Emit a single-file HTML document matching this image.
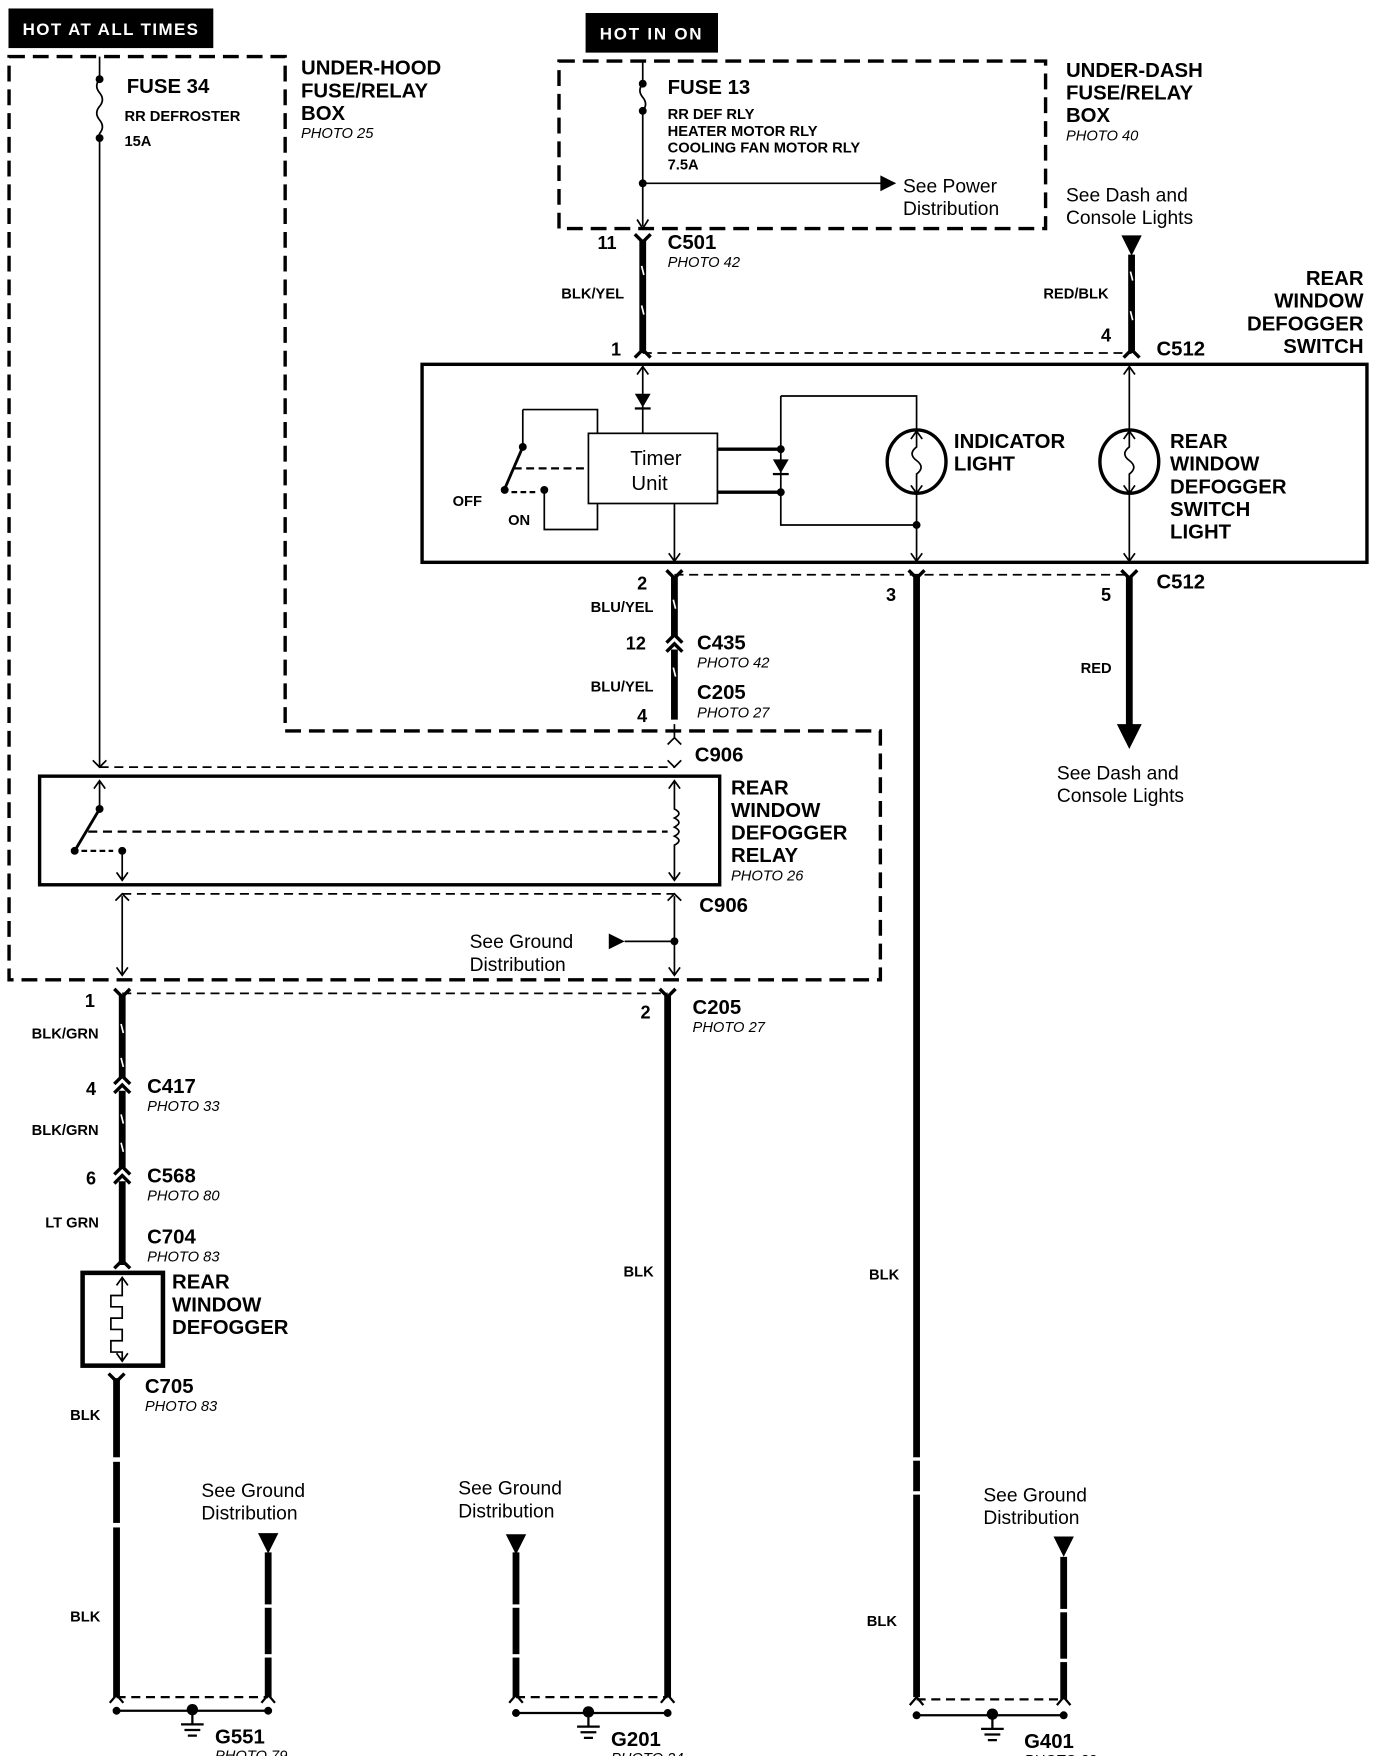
<!DOCTYPE html>
<html><head><meta charset="utf-8"><style>
html,body{margin:0;padding:0;background:#fff;}
svg{display:block;}
text{font-family:"Liberation Sans",Arial,sans-serif;fill:#000;}
.b{font-weight:bold;font-size:18px;}
.s{font-weight:bold;font-size:13px;}
.p{font-style:italic;font-size:13px;}
.r{font-size:17px;}
.n{font-size:16px;font-weight:bold;}
</style></head><body>
<svg width="1376" height="1756" viewBox="0 0 1216 1552" preserveAspectRatio="none" xmlns="http://www.w3.org/2000/svg">
<rect x="0" y="0" width="1216" height="1552" fill="#fff"/>
<g stroke="#000" fill="none">
<!-- header boxes -->
<rect x="8" y="8" width="180" height="34" fill="#000"/>
<rect x="518" y="12" width="116" height="34" fill="#000"/>
<!-- under-hood dashed box -->
<path d="M8,50 H252 V646 H778 V866 H8 Z" stroke-width="3" stroke-dasharray="14,7"/>
<!-- under-dash dashed box -->
<rect x="494" y="54" width="430" height="148" stroke-width="3" stroke-dasharray="14,7"/>
<!-- fuse 34 wire -->
<path d="M88,50 V70 q-5,6 0,12 q5,6 0,12 q-5,6 0,12 q5,6 0,12 V678" stroke-width="1.5"/>
<!-- fuse 13 wire -->
<path d="M568,54 V74 q-5,6 0,12 q5,6 0,12 V200" stroke-width="1.5"/>
<path d="M563,194 L568,202 L573,194" stroke-width="1.5"/>
<path d="M568,162 H782" stroke-width="1.5"/>
</g>
<g fill="#000">
<circle cx="88" cy="70" r="3.5"/><circle cx="88" cy="122" r="3.5"/>
<circle cx="568" cy="74" r="3.5"/><circle cx="568" cy="98" r="3.5"/><circle cx="568" cy="162" r="3.5"/>
<path d="M778,155 L792,162 L778,169 Z"/>
</g>
<text x="20" y="31" style="font-size:15px;font-weight:bold;fill:#fff" textLength="155">HOT AT ALL TIMES</text>
<text x="530" y="35" style="font-size:15px;font-weight:bold;fill:#fff" textLength="90">HOT IN ON</text>
<text class="b" x="112" y="82">FUSE 34</text>
<text class="s" x="110" y="107">RR DEFROSTER</text>
<text class="s" x="110" y="129">15A</text>
<text class="b" x="266" y="66">UNDER-HOOD</text>
<text class="b" x="266" y="86">FUSE/RELAY</text>
<text class="b" x="266" y="106">BOX</text>
<text class="p" x="266" y="122">PHOTO 25</text>
<text class="b" x="590" y="83">FUSE 13</text>
<text class="s" x="590" y="105">RR DEF RLY</text>
<text class="s" x="590" y="120">HEATER MOTOR RLY</text>
<text class="s" x="590" y="135">COOLING FAN MOTOR RLY</text>
<text class="s" x="590" y="150">7.5A</text>
<text class="r" x="798" y="170">See Power</text>
<text class="r" x="798" y="190">Distribution</text>
<text class="b" x="942" y="68">UNDER-DASH</text>
<text class="b" x="942" y="88">FUSE/RELAY</text>
<text class="b" x="942" y="108">BOX</text>
<text class="p" x="942" y="124">PHOTO 40</text>
<text class="r" x="942" y="178">See Dash and</text>
<text class="r" x="942" y="198">Console Lights</text>
<text class="b" x="1205" y="252" text-anchor="end">REAR</text>
<text class="b" x="1205" y="272" text-anchor="end">WINDOW</text>
<text class="b" x="1205" y="292" text-anchor="end">DEFOGGER</text>
<text class="b" x="1205" y="312" text-anchor="end">SWITCH</text>

<!-- C501 / C512 top -->
<g stroke="#000" fill="none">
<path d="M568,212 V312" stroke-width="6"/>
<path d="M561,207 L568,214 L575,207" stroke-width="3"/>
<path d="M561,316 L568,309 L575,316" stroke-width="3"/>
<path d="M1000,225 V312" stroke-width="6"/>
<path d="M993,316 L1000,309 L1007,316" stroke-width="3"/>
<path d="M568,312 H1000" stroke-width="1.5" stroke-dasharray="8,5"/>
</g>
<path d="M991,208 H1009 L1000,226 Z" fill="#000"/>
<g stroke="#fff" stroke-width="1.5"><path d="M567,235 l2,8 M567,270 l2,8 M999,240 l2,8 M999,275 l2,8"/></g>
<text class="n" x="528" y="220">11</text>
<text class="b" x="590" y="220">C501</text>
<text class="p" x="590" y="236">PHOTO 42</text>
<text class="s" x="496" y="264">BLK/YEL</text>
<text class="s" x="922" y="264">RED/BLK</text>
<text class="n" x="540" y="314">1</text>
<text class="n" x="973" y="302">4</text>
<text class="b" x="1022" y="314">C512</text>

<!-- switch box -->
<g stroke="#000" fill="none">
<rect x="373" y="322" width="835" height="175" stroke-width="3"/>
<path d="M568,324 V383" stroke-width="1.5"/>
<path d="M563,331 L568,324 L573,331" stroke-width="1.5"/>
<rect x="520" y="383" width="114" height="62" stroke-width="1.5"/>
<path d="M462,362 H528 V383" stroke-width="1.5"/>
<path d="M462,362 V395" stroke-width="1.5"/>
<path d="M462,395 L446,432" stroke-width="2.5"/>
<path d="M454,414 H520" stroke-width="2" stroke-dasharray="7,4"/>
<path d="M452,435 H476" stroke-width="2" stroke-dasharray="5,3"/>
<path d="M481,433 V468 H528 V445" stroke-width="1.5"/>
<path d="M634,397 H690 M634,435 H690" stroke-width="3"/>
<path d="M690,350 V464 H810 M690,350 H810 V380" stroke-width="1.5"/>
<ellipse cx="810" cy="408" rx="26" ry="28" stroke-width="3"/>
<path d="M810,380 V395 q-8,6 0,12 q8,6 0,12 V436 M810,436 V495" stroke-width="1.5"/>
<path d="M805,388 L810,381 L815,388 M805,429 L810,436 L815,429 M805,489 L810,496 L815,489" stroke-width="1.5"/>
<ellipse cx="998" cy="408" rx="26" ry="28" stroke-width="3"/>
<path d="M998,324 V395 q-8,6 0,12 q8,6 0,12 V495" stroke-width="1.5"/>
<path d="M993,331 L998,324 L1003,331 M993,388 L998,381 L1003,388 M993,429 L998,436 L1003,429 M993,489 L998,496 L1003,489" stroke-width="1.5"/>
<path d="M596,445 V495 M591,489 L596,496 L601,489" stroke-width="1.5"/>
</g>
<g fill="#000">
<path d="M561,348 H575 L568,360 Z"/><rect x="561" y="360" width="14" height="2"/>
<path d="M683,406 H697 L690,418 Z"/><rect x="683" y="418" width="14" height="2"/>
<circle cx="462" cy="395" r="3.5"/><circle cx="446" cy="433" r="3.5"/><circle cx="481" cy="433" r="3.5"/>
<circle cx="690" cy="397" r="3.5"/><circle cx="690" cy="435" r="3.5"/><circle cx="810" cy="464" r="3.5"/>
</g>
<text x="557" y="411" style="font-size:18px">Timer</text>
<text x="558" y="433" style="font-size:18px">Unit</text>
<text class="s" x="400" y="447">OFF</text>
<text class="s" x="449" y="464">ON</text>
<text class="b" x="843" y="396">INDICATOR</text>
<text class="b" x="843" y="416">LIGHT</text>
<text class="b" x="1034" y="396">REAR</text>
<text class="b" x="1034" y="416">WINDOW</text>
<text class="b" x="1034" y="436">DEFOGGER</text>
<text class="b" x="1034" y="456">SWITCH</text>
<text class="b" x="1034" y="476">LIGHT</text>

<!-- below switch -->
<g stroke="#000" fill="none">
<path d="M596,508 H998" stroke-width="1.5" stroke-dasharray="8,5"/>
<path d="M596,510 V562 M596,574 V636" stroke-width="6"/>
<path d="M589,504 L596,511 L603,504 M589,504 L596,511 L603,504" stroke-width="3"/>
<path d="M589,568 L596,561 L603,568 M589,576 L596,569 L603,576" stroke-width="3"/>
<path d="M810,510 V1500" stroke-width="6"/>
<path d="M803,504 L810,511 L817,504" stroke-width="3"/>
<path d="M998,510 V644" stroke-width="6"/>
<path d="M991,504 L998,511 L1005,504" stroke-width="3"/>
</g>
<path d="M987,640 H1009 L998,662 Z" fill="#000"/>
<g stroke="#fff" stroke-width="1.5"><path d="M595,530 l2,8 M595,590 l2,8 M809,1290 h2 M809,1320 h2"/></g>
<rect x="806" y="1288" width="8" height="3" fill="#fff"/><rect x="806" y="1318" width="8" height="3" fill="#fff"/>
<text class="n" x="563" y="521">2</text>
<text class="n" x="783" y="531">3</text>
<text class="n" x="973" y="531">5</text>
<text class="b" x="1022" y="520">C512</text>
<text class="s" x="522" y="541">BLU/YEL</text>
<text class="n" x="553" y="574">12</text>
<text class="b" x="616" y="574">C435</text>
<text class="p" x="616" y="590">PHOTO 42</text>
<text class="s" x="522" y="611">BLU/YEL</text>
<text class="b" x="616" y="618">C205</text>
<text class="p" x="616" y="634">PHOTO 27</text>
<text class="n" x="563" y="638">4</text>
<text class="s" x="955" y="595">RED</text>
<text class="r" x="934" y="689">See Dash and</text>
<text class="r" x="934" y="709">Console Lights</text>

<!-- relay -->
<g stroke="#000" fill="none">
<path d="M596,640 V652 M590,658 L596,652 L602,658" stroke-width="1.5"/>
<path d="M88,678 H596" stroke-width="1.5" stroke-dasharray="8,5"/>
<path d="M82,672 L88,678 L94,672 M590,672 L596,678 L602,672" stroke-width="1.5"/>
<rect x="35" y="686" width="601" height="96" stroke-width="3"/>
<path d="M88,690 V715 M83,697 L88,690 L93,697" stroke-width="1.5"/>
<path d="M88,715 L66,752" stroke-width="2.5"/>
<path d="M78,735 H590" stroke-width="2" stroke-dasharray="8,5"/>
<path d="M72,752 H100" stroke-width="2" stroke-dasharray="5,3"/>
<path d="M108,752 V778 M103,771 L108,778 L113,771" stroke-width="1.5"/>
<path d="M596,690 V715 q8,4 0,8 q8,4 0,8 q8,4 0,8 q8,4 0,8 V778 M591,697 L596,690 L601,697 M591,771 L596,778 L601,771" stroke-width="1.5"/>
<path d="M108,790 H596" stroke-width="1.5" stroke-dasharray="8,5"/>
<path d="M102,796 L108,790 L114,796 M590,796 L596,790 L602,796" stroke-width="1.5"/>
<path d="M108,792 V862 M103,855 L108,862 L113,855" stroke-width="1.5"/>
<path d="M596,792 V862 M591,855 L596,862 L601,855 M552,832 H596" stroke-width="1.5"/>
</g>
<g fill="#000">
<circle cx="88" cy="715" r="3.5"/><circle cx="66" cy="752" r="3.5"/><circle cx="108" cy="752" r="3.5"/>
<circle cx="596" cy="832" r="3.5"/>
<path d="M538,825 L552,832 L538,839 Z"/>
</g>
<text class="b" x="614" y="673">C906</text>
<text class="b" x="646" y="702">REAR</text>
<text class="b" x="646" y="722">WINDOW</text>
<text class="b" x="646" y="742">DEFOGGER</text>
<text class="b" x="646" y="762">RELAY</text>
<text class="p" x="646" y="778">PHOTO 26</text>
<text class="b" x="618" y="806">C906</text>
<text class="r" x="415" y="838">See Ground</text>
<text class="r" x="415" y="858">Distribution</text>

<!-- lower left -->
<g stroke="#000" fill="none">
<path d="M108,878 H590" stroke-width="1.5" stroke-dasharray="8,5"/>
<path d="M101,874 L108,881 L115,874 M583,874 L590,881 L597,874" stroke-width="3"/>
<path d="M108,880 V952 M108,964 V1032 M108,1044 V1118" stroke-width="6"/>
<path d="M101,958 L108,951 L115,958 M101,966 L108,959 L115,966 M101,1038 L108,1031 L115,1038 M101,1046 L108,1039 L115,1046 M101,1121 L108,1114 L115,1121" stroke-width="3"/>
<path d="M590,880 V1500" stroke-width="6"/>
<rect x="73" y="1125" width="71" height="82" stroke-width="4"/>
<path d="M108,1129 V1145 H98 V1155 H108 V1165 H98 V1175 H108 V1185 H98 V1195 H108 V1203 M103,1136 L108,1129 L113,1136 M103,1196 L108,1203 L113,1196" stroke-width="1.5"/>
<path d="M103,1218 V1500" stroke-width="6"/>
<path d="M96,1214 L103,1221 L110,1214" stroke-width="3"/>
<path d="M237,1372 V1500 M456,1372 V1500 M940,1376 V1502" stroke-width="6"/>
<path d="M103,1500 H237 M456,1500 H590 M810,1502 H940" stroke-width="2" stroke-dasharray="8,5"/>
<path d="M97,1505 L103,1498 L109,1505 M231,1505 L237,1498 L243,1505 M450,1505 L456,1498 L462,1505 M584,1505 L590,1498 L596,1505 M804,1507 L810,1500 L816,1507 M934,1507 L940,1500 L946,1507" stroke-width="2"/>
<path d="M103,1512 H237 M456,1514 H590 M810,1516 H940" stroke-width="2"/>
<path d="M170,1512 V1524 M160,1524 H180 M163,1529 H177 M166,1534 H174" stroke-width="2"/>
<path d="M520,1514 V1526 M510,1526 H530 M513,1531 H527 M516,1536 H524" stroke-width="2"/>
<path d="M877,1516 V1528 M867,1528 H887 M870,1533 H884 M873,1538 H881" stroke-width="2"/>
</g>
<g fill="#fff">
<rect x="99" y="1288" width="8" height="4"/><rect x="99" y="1346" width="8" height="4"/>
<rect x="233" y="1418" width="8" height="3"/><rect x="233" y="1462" width="8" height="3"/>
<rect x="452" y="1418" width="8" height="3"/><rect x="452" y="1462" width="8" height="3"/>
<rect x="936" y="1422" width="8" height="3"/><rect x="936" y="1466" width="8" height="3"/>
</g>
<g stroke="#fff" stroke-width="1.5"><path d="M107,905 l2,8 M107,935 l2,8 M107,985 l2,8 M107,1010 l2,8"/></g>
<g fill="#000">
<path d="M228,1355 H246 L237,1373 Z"/>
<path d="M447,1356 H465 L456,1374 Z"/>
<path d="M931,1358 H949 L940,1376 Z"/>
<circle cx="103" cy="1512" r="3.5"/><circle cx="237" cy="1512" r="3.5"/><circle cx="170" cy="1511" r="5"/>
<circle cx="456" cy="1514" r="3.5"/><circle cx="590" cy="1514" r="3.5"/><circle cx="520" cy="1513" r="5"/>
<circle cx="810" cy="1516" r="3.5"/><circle cx="940" cy="1516" r="3.5"/><circle cx="877" cy="1515" r="5"/>
</g>
<text class="n" x="75" y="890">1</text>
<text class="n" x="566" y="900">2</text>
<text class="b" x="612" y="896">C205</text>
<text class="p" x="612" y="912">PHOTO 27</text>
<text class="s" x="28" y="918">BLK/GRN</text>
<text class="n" x="76" y="968">4</text>
<text class="b" x="130" y="966">C417</text>
<text class="p" x="130" y="982">PHOTO 33</text>
<text class="s" x="28" y="1003">BLK/GRN</text>
<text class="n" x="76" y="1047">6</text>
<text class="b" x="130" y="1045">C568</text>
<text class="p" x="130" y="1061">PHOTO 80</text>
<text class="s" x="40" y="1085">LT GRN</text>
<text class="b" x="130" y="1099">C704</text>
<text class="p" x="130" y="1115">PHOTO 83</text>
<text class="b" x="152" y="1139">REAR</text>
<text class="b" x="152" y="1159">WINDOW</text>
<text class="b" x="152" y="1179">DEFOGGER</text>
<text class="b" x="128" y="1231">C705</text>
<text class="p" x="128" y="1247">PHOTO 83</text>
<text class="s" x="62" y="1255">BLK</text>
<text class="s" x="62" y="1433">BLK</text>
<text class="s" x="551" y="1128">BLK</text>
<text class="s" x="768" y="1131">BLK</text>
<text class="s" x="766" y="1437">BLK</text>
<text class="r" x="178" y="1323">See Ground</text>
<text class="r" x="178" y="1343">Distribution</text>
<text class="r" x="405" y="1321">See Ground</text>
<text class="r" x="405" y="1341">Distribution</text>
<text class="r" x="869" y="1327">See Ground</text>
<text class="r" x="869" y="1347">Distribution</text>
<text class="b" x="190" y="1541">G551</text>
<text class="p" x="190" y="1556">PHOTO 79</text>
<text class="b" x="540" y="1543">G201</text>
<text class="p" x="540" y="1558">PHOTO 24</text>
<text class="b" x="905" y="1545">G401</text>
<text class="p" x="905" y="1560">PHOTO 33</text>
</svg>
</body></html>
